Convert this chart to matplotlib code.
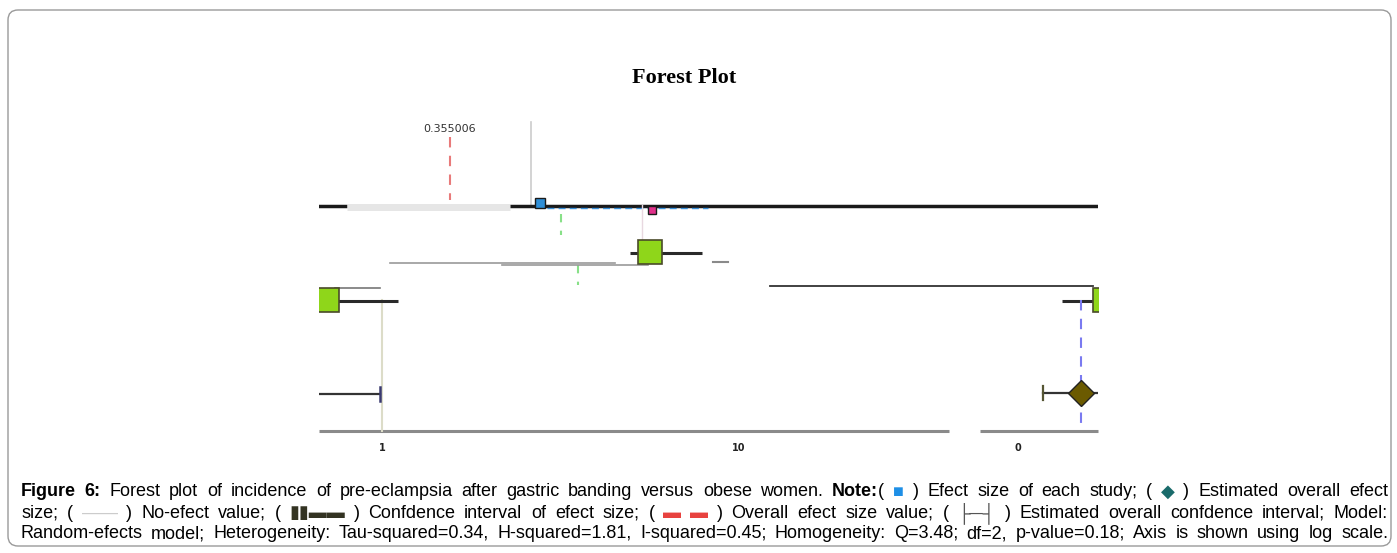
import matplotlib.pyplot as plt
from matplotlib.patches import FancyBboxPatch

# study values (log axis, effect size)
study_es = [5.63, 0.70, 106.0]
study_lo = [4.95, 0.60, 80.3]
study_hi = [7.88, 1.11, 130.0]
study_rows = [252, 300, 300]

# overall estimate
overall_es = 90.8
overall_lo = 71.1
overall_hi = 130.0
overall_value = 1.55
overall_label = "0.355006"

# axis ticks
tick_vals = [1, 10, 60.4]
tick_labels = ["1", "10", "0"]

W, H = 1397, 553
fig = plt.figure(figsize=(W / 100, H / 100), dpi=100)

# rounded frame around figure
frame = FancyBboxPatch((8 / 100, (H - 546) / 100), 1383 / 100, 536 / 100,
                       boxstyle="round,pad=0,rounding_size=0.1",
                       transform=fig.dpi_scale_trans, fc="none", ec="#9a9a9a", lw=1.0,
                       zorder=-1)
fig.patches.append(frame)

fig.text(684 / W, 1 - 78 / H, "Forest Plot", ha="center", va="center",
         family="Liberation Serif", weight="bold", fontsize=16)

# axes: x log, 1 at px 382, 10 at px 739
left, right, top, bottom = 319, 1098, 115, 432
ax = fig.add_axes([left / W, 1 - bottom / H, (right - left) / W, (bottom - top) / H])
ax.set_xscale("log")
dec = 739 - 382
xmin, xmax = 10 ** ((left - 382) / dec), 10 ** ((right - 382) / dec)
ax.set_xlim(xmin, xmax)
ax.set_ylim(bottom, top)
ax.patch.set_alpha(0)
for s in ax.spines.values():
    s.set_visible(False)
ax.set_yticks([])
ax.set_xticks(tick_vals)
ax.set_xticklabels(tick_labels, family="DejaVu Sans", fontsize=7, color="#222222",
                   weight="bold")
ax.xaxis.set_minor_locator(plt.NullLocator())
ax.tick_params(axis="x", length=0, pad=8)

# bottom axis line (broken)
ax.plot([xmin, 38.7], [431, 431], color="#8a8a8a", lw=2.2, solid_capstyle="butt", clip_on=False)
ax.plot([47.3, xmax], [431, 431], color="#8a8a8a", lw=2.2, solid_capstyle="butt", clip_on=False)

# no-effect line
ax.plot([1, 1], [300, 431], color="#dcdcc8", lw=1.5)

# overall value line and label
ax.plot([overall_value, overall_value], [137, 200], color="#e87a7a", lw=1.5, dashes=(5, 4))
ax.text(overall_value, 129, overall_label, ha="center", va="center", fontsize=8,
        family="DejaVu Sans", color="#333333")
ax.plot([2.61, 2.61], [122, 205], color="#cccccc", lw=1.2)

# long black line across top
ax.plot([0.6, 0.80], [206, 206], color="#1a1a1a", lw=2.5, solid_capstyle="butt")
ax.plot([0.80, 2.28], [207, 207], color="#e6e6e6", lw=5, solid_capstyle="butt")
ax.plot([2.28, 130], [206, 206], color="#1a1a1a", lw=2.5, solid_capstyle="butt")
ax.plot([2.9, 8.2], [207.5, 207.5], color="#3a8fd8", lw=1.0, dashes=(5, 3))
ax.plot([2.77], [203], marker="s", ms=7, mfc="#2f8fd8", mec="#1a1a1a", mew=1, ls="none")
ax.plot([5.7], [210], marker="s", ms=6, mfc="#e0308a", mec="#1a1a1a", mew=1, ls="none")
ax.plot([5.34, 5.34], [205, 240], color="#e8d8e0", lw=1)
ax.plot([3.17, 3.17], [214, 235], color="#88e088", lw=1.5, dashes=(4, 4))
ax.plot([3.54, 3.54], [265, 285], color="#88e088", lw=1.5, dashes=(4, 4))

# stray grey lines
ax.plot([1.05, 4.49], [263, 263], color="#9a9a9a", lw=1.2)
ax.plot([2.17, 5.55], [265, 265], color="#9a9a9a", lw=1.2)
ax.plot([8.44, 9.33], [262, 262], color="#8a8a8a", lw=1.5)
ax.plot([12.2, 98.2], [286, 286], color="#333333", lw=1.3)
ax.plot([0.74, 0.99], [288, 288], color="#777777", lw=1.2)

# study CIs and squares
for es, lo, hi, row in zip(study_es, study_lo, study_hi, study_rows):
    ax.plot([lo, hi], [row + 1, row + 1], color="#2a2a2a", lw=2.2, solid_capstyle="butt")
    ax.plot([es], [row], marker="s", ms=17, mfc="#8fd61a", mec="#4a4a2a", mew=1.2, ls="none")

# overall estimate and CI
ax.plot([overall_es, overall_es], [300, 431], color="#7a7af0", lw=1.5, dashes=(5, 4))
ax.plot([overall_lo, overall_hi], [393, 393], color="#333333", lw=1.6)
ax.plot([overall_lo, overall_lo], [386, 400], color="#555533", lw=1.6)
ax.plot([0.6, 0.99], [394, 394], color="#333333", lw=1.6)
ax.plot([0.99, 0.99], [387, 401], color="#3a3a70", lw=1.8)
ax.plot([overall_es], [393], marker="D", ms=13, mfc="#6b5a00", mec="#222222", mew=1,
        ls="none")

# caption, justified lines
fam = ["Liberation Sans", "DejaVu Sans"]
fs = 13
lines = [
    [("Figure 6:", "bold", "k", False), ("Forest plot of incidence of pre-eclampsia after gastric banding versus obese women.", "normal", "k", False),
     ("Note:", "bold", "k", False), ("(", "normal", "k", True), ("■", "normal", "#1e8fe6", False), (")", "normal", "k", False),
     ("Efect size of each study;", "normal", "k", False), ("(", "normal", "k", False), ("◆", "normal", "#1a6b6b", False),
     (") Estimated overall efect", "normal", "k", False)],
    [("size;", "normal", "k", False), ("(", "normal", "k", False), ("——", "normal", "#cccccc", False),
     (") No-efect value;", "normal", "k", False), ("(", "normal", "k", False), ("▮▮▬▬", "bold", "#333322", False),
     (") Confdence interval of efect size;", "normal", "k", False), ("(", "normal", "k", False),
     ("▬ ▬", "normal", "#e8423f", False), (") Overall efect size value;", "normal", "k", False), ("(", "normal", "k", False),
     ("├─┤", "normal", "#555555", False), (") Estimated overall confdence interval; Model:", "normal", "k", False)],
    [("Random-efects model; Heterogeneity: Tau-squared=0.34, H-squared=1.81, I-squared=0.45; Homogeneity: Q=3.48; df=2, p-value=0.18; Axis is shown using log scale.", "normal", "k", False)],
]
line_y = [492, 513, 534]
x0, x1 = 21, 1388

renderer = fig.canvas.get_renderer()
for segs, y in zip(lines, line_y):
    words = []
    for text, weight, color, glue in segs:
        for i, w in enumerate(text.split(" ")):
            t = fig.text(0, 1 - y / H, w, family=fam, fontsize=fs, weight=weight,
                         color=color, va="center", ha="left")
            words.append((t, glue and i == 0))
    widths = [t.get_window_extent(renderer).width for t, g in words]
    n_gaps = sum(1 for t, g in words[1:] if not g)
    gap = (x1 - x0 - sum(widths)) / max(n_gaps, 1)
    x = x0
    for (t, g), w in zip(words, widths):
        if t is not words[0][0] and not g:
            x += gap
        t.set_x(x / W)
        x += w

fig.savefig("out.png", dpi=100)
